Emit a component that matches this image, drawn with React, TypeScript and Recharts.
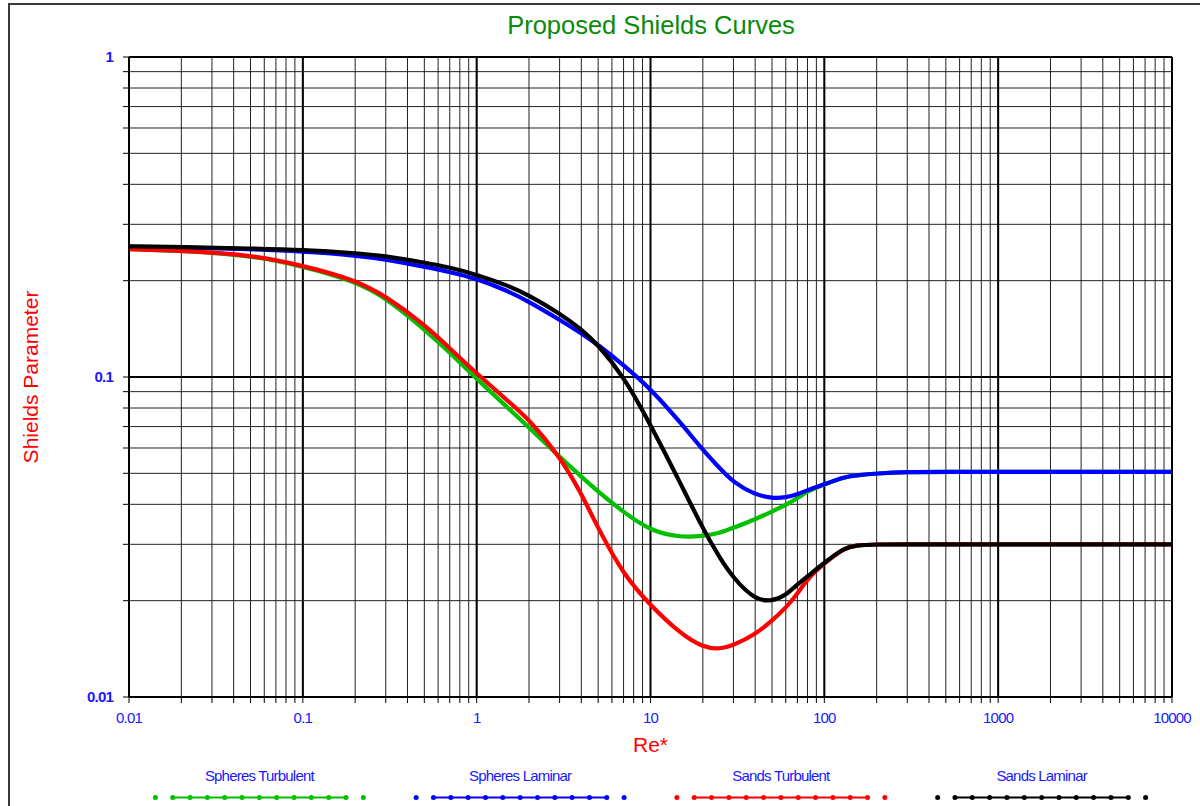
import React from 'react';
import { LineChart, Line, XAxis, YAxis, CartesianGrid, ReferenceLine, Legend } from 'recharts';

// Re* values (x)
const reValues = [0.01, 0.02, 0.05, 0.1, 0.2, 0.3, 0.5, 0.7, 1, 1.5, 2, 3, 4, 5, 7, 10, 15, 20, 25, 30, 40, 50, 60, 70, 80, 100, 130, 150, 200, 300, 500, 1000, 10000];

// Shields parameter per series
const spheresTurbulent = [0.251, 0.248, 0.240, 0.222, 0.199, 0.177, 0.141, 0.1195, 0.0985, 0.0805, 0.0695, 0.0563, 0.0488, 0.0438, 0.0378, 0.0330, 0.0315, 0.0318, 0.0325, 0.0338, 0.0359, 0.0380, 0.0398, 0.0418, 0.0440, 0.0462, 0.0487, 0.0492, 0.0500, 0.0505, 0.0505, 0.0505, 0.0505];
const spheresLaminar = [0.255, 0.254, 0.251, 0.247, 0.240, 0.233, 0.221, 0.213, 0.203, 0.186, 0.172, 0.151, 0.137, 0.126, 0.109, 0.092, 0.0717, 0.0591, 0.0519, 0.0468, 0.0428, 0.0418, 0.0420, 0.0430, 0.0443, 0.0462, 0.0487, 0.0492, 0.0500, 0.0505, 0.0505, 0.0505, 0.0505];
const sandsTurbulent = [0.251, 0.248, 0.241, 0.223, 0.201, 0.179, 0.146, 0.123, 0.1025, 0.0845, 0.0738, 0.0565, 0.0433, 0.0336, 0.0241, 0.0193, 0.0157, 0.0143, 0.0141, 0.0145, 0.0157, 0.0173, 0.0190, 0.0210, 0.0234, 0.0262, 0.0292, 0.0298, 0.0300, 0.0300, 0.0300, 0.0300, 0.0300];
const sandsLaminar = [0.256, 0.255, 0.252, 0.2495, 0.244, 0.2387, 0.228, 0.220, 0.209, 0.1935, 0.180, 0.158, 0.141, 0.126, 0.1005, 0.0711, 0.0461, 0.0336, 0.0272, 0.0235, 0.0201, 0.0199, 0.0208, 0.0225, 0.0238, 0.0263, 0.0292, 0.0298, 0.0300, 0.0300, 0.0300, 0.0300, 0.0300];

const seriesNames = ['Spheres Turbulent', 'Spheres Laminar', 'Sands Turbulent', 'Sands Laminar'];
const seriesKeys = ['st', 'sl', 'sdt', 'sdl'];
const seriesColors = ['#00c000', '#0000ff', '#ff0000', '#000000'];
const seriesValues = [spheresTurbulent, spheresLaminar, sandsTurbulent, sandsLaminar];

// Axis ticks
const xDecades = [0.01, 0.1, 1, 10, 100, 1000, 10000];
const xDecadeLabels = ['0.01', '0.1', '1', '10', '100', '1000', '10000'];
const yDecades = [0.01, 0.1, 1];
const yDecadeLabels = ['0.01', '0.1', '1'];
const minorMultipliers = [1, 2, 3, 4, 5, 6, 7, 8, 9];

const titleText = 'Proposed Shields Curves';
const xLabelText = 'Re*';
const yLabelText = 'Shields Parameter';

const buildTicks = (decades: number[]) => {
  const out: number[] = [];
  decades.forEach((d, i) => {
    if (i === decades.length - 1) out.push(d);
    else minorMultipliers.forEach((m) => out.push(m * d));
  });
  return out;
};
const xTicks = buildTicks(xDecades);
const yTicks = buildTicks(yDecades);

const fmt = (decades: number[], labels: string[]) => (v: number) => {
  const i = decades.findIndex((d) => Math.abs(v / d - 1) < 1e-6);
  return i >= 0 ? labels[i] : '';
};

const data = reValues.map((re, i) => {
  const row: Record<string, number> = { re };
  seriesKeys.forEach((k, s) => {
    row[k] = seriesValues[s][i];
  });
  return row;
});

const FONT = '"Liberation Sans", Arial, sans-serif';
const BLUE = '#1818ff';

const PLOT_LEFT = 129;
const PLOT_RIGHT = 1172;

const renderLegend = () => {
  const colW = (PLOT_RIGHT - PLOT_LEFT) / 4;
  return (
    <svg width={1200} height={46} style={{ display: 'block' }}>
      {seriesNames.map((name, i) => {
        const cx = PLOT_LEFT + colW * (i + 0.5);
        const step = 17.33;
        const dots = [];
        for (let k = -6; k <= 6; k++) {
          dots.push(<circle key={k} cx={cx + k * step} cy={39.5} r={2.5} fill={seriesColors[i]} />);
        }
        return (
          <g key={name}>
            <text x={cx} y={23} textAnchor="middle" fill={BLUE} fontSize={15} fontFamily={FONT} letterSpacing={-0.8}>
              {name}
            </text>
            <line x1={cx - 5 * step} x2={cx + 5 * step} y1={39.5} y2={39.5} stroke={seriesColors[i]} strokeWidth={2.2} />
            {dots}
          </g>
        );
      })}
    </svg>
  );
};

const YLabel = () => (
  <text
    x={38}
    y={377}
    transform="rotate(-90, 38, 377)"
    textAnchor="middle"
    fill="#ff0000"
    fontSize={21}
    fontFamily={FONT}
  >
    {yLabelText}
  </text>
);

export default function App() {
  return (
    <div style={{ position: 'fixed', left: 0, top: 0, width: 1200, height: 806, overflow: 'hidden', background: '#fff' }}>
      <div
        style={{
          position: 'absolute',
          left: 8,
          top: 3,
          width: 1300,
          height: 900,
          border: '2px solid #3a3a3a',
          boxSizing: 'border-box',
        }}
      />
      <svg width={1200} height={60} style={{ position: 'absolute', left: 0, top: 0, pointerEvents: 'none' }}>
        <text x={651} y={34} textAnchor="middle" fill="#0a8a0a" fontSize={25.5} fontFamily={FONT}>
          {titleText}
        </text>
      </svg>
      <div style={{ position: 'absolute', left: 0, top: 0 }}>
        <LineChart width={1200} height={806} data={data} margin={{ top: 57, right: 28, bottom: 79, left: 69 }}>
          <CartesianGrid stroke="#222" strokeWidth={1} />
          <XAxis
            dataKey="re"
            type="number"
            scale="log"
            domain={[0.01, 10000]}
            allowDataOverflow
            ticks={xTicks}
            interval={0}
            tickFormatter={fmt(xDecades, xDecadeLabels)}
            tick={{ fill: BLUE, fontSize: 15, fontFamily: FONT, letterSpacing: -0.8 } as any}
            tickSize={6}
            tickMargin={9}
            tickLine={{ stroke: '#000' }}
            axisLine={{ stroke: '#000', strokeWidth: 2 }}
            height={30}
            label={{ value: xLabelText, position: 'bottom', offset: 10, fill: '#ff0000', fontSize: 21, fontFamily: FONT }}
          />
          <YAxis
            type="number"
            scale="log"
            domain={[0.01, 1]}
            allowDataOverflow
            ticks={yTicks}
            interval={0}
            tickFormatter={fmt(yDecades, yDecadeLabels)}
            tick={{ fill: BLUE, fontSize: 15, fontFamily: FONT, fontWeight: 'bold', letterSpacing: -0.8 } as any}
            tickSize={6}
            tickMargin={10}
            tickLine={{ stroke: '#000' }}
            axisLine={{ stroke: '#000', strokeWidth: 2 }}
            width={60}
            label={() => <YLabel />}
          />
          {xDecades.slice(1).map((d) => (
            <ReferenceLine key={'x' + d} x={d} stroke="#000" strokeWidth={2} />
          ))}
          {yDecades.slice(1).map((d) => (
            <ReferenceLine key={'y' + d} y={d} stroke="#000" strokeWidth={2} />
          ))}
          {seriesKeys.map((k, i) => (
            <Line
              key={k}
              dataKey={k}
              name={seriesNames[i]}
              type="basis"
              stroke={seriesColors[i]}
              strokeWidth={4.2}
              dot={false}
              activeDot={false}
              isAnimationActive={false}
            />
          ))}
          <Legend
            layout="horizontal"
            verticalAlign="middle"
            align="center"
            content={renderLegend}
            wrapperStyle={{ top: 758, left: 0, width: 1200, height: 46 }}
          />
        </LineChart>
      </div>
    </div>
  );
}
